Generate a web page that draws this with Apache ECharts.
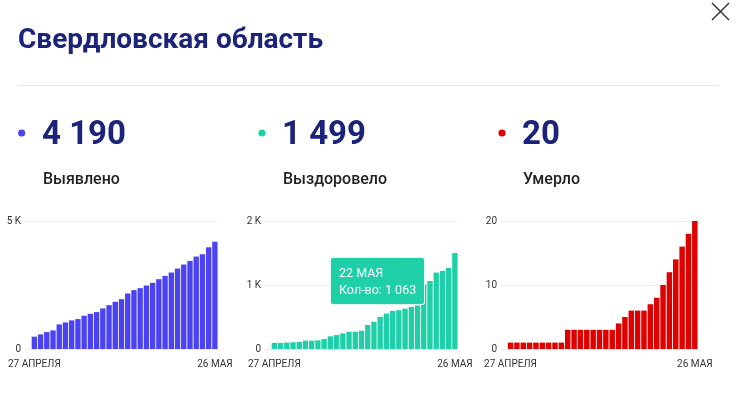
<!DOCTYPE html>
<html>
<head>
<meta charset="utf-8">
<script src="https://cdn.jsdelivr.net/npm/echarts@6/dist/echarts.min.js"></script>
<style>
html,body{margin:0;padding:0;background:#fff;}
#c{width:740px;height:397px;}
</style>
</head>
<body>
<div id="c"></div>
<script>
var dates = ['27 АПРЕЛЯ','28 АПРЕЛЯ','29 АПРЕЛЯ','30 АПРЕЛЯ','1 МАЯ','2 МАЯ','3 МАЯ','4 МАЯ','5 МАЯ','6 МАЯ',
  '7 МАЯ','8 МАЯ','9 МАЯ','10 МАЯ','11 МАЯ','12 МАЯ','13 МАЯ','14 МАЯ','15 МАЯ','16 МАЯ',
  '17 МАЯ','18 МАЯ','19 МАЯ','20 МАЯ','21 МАЯ','22 МАЯ','23 МАЯ','24 МАЯ','25 МАЯ','26 МАЯ'];
var confirmed = [481,571,662,727,961,1039,1117,1169,1299,1377,1442,1585,1714,1844,1948,2169,2299,2377,2481,2584,2727,2857,2987,3143,3299,3442,3611,3701,3974,4190];
var recovered = [95,95,100,105,110,131,131,136,157,198,219,244,270,270,286,374,425,502,553,595,606,630,657,680,1010,1063,1194,1220,1267,1499];
var deaths = [1,1,1,1,1,1,1,1,1,3,3,3,3,3,3,3,3,4,5,6,6,6,7,8,10,12,14,16,18,20];
var titleText = 'Свердловская область';
var statLabels = ['Выявлено','Выздоровело','Умерло'];
var yMax = [5000, 2000, 20];
var yInterval = [5000, 1000, 10];
var tipDate = '22 МАЯ';

var colors = ['#4b42f3', '#1fcfa7', '#df0000'];
var navy = '#1b237b';
var font = 'Roboto, "Noto Sans", sans-serif';

function fmt(n){ return String(n).replace(/\B(?=(\d{3})+(?!\d))/g, ' '); }

var cats = [''].concat(dates);
var seriesData = [confirmed, recovered, deaths];
var grids = [
  {left:25, right:522, top:221, bottom:48},
  {left:265, right:282, top:221, bottom:48},
  {left:501, right:42, top:221, bottom:48}
];
var xAxes = [], yAxes = [], series = [];
for (var i=0;i<3;i++){
  xAxes.push({
    type:'category', gridIndex:i, data:cats,
    axisLine:{show:false}, axisTick:{show:false},
    axisLabel:{
      color:'#333', fontSize:10, fontFamily:font, margin:10,
      interval:function(idx){ return idx===1 || idx===cats.length-1; }
    }
  });
  yAxes.push({
    type:'value', gridIndex:i, min:0, max:yMax[i], interval:yInterval[i],
    axisLine:{show:false}, axisTick:{show:false},
    splitLine:{lineStyle:{color:'#ececec', width:1}},
    axisLabel:{
      color:'#333', fontSize:10, fontFamily:font, margin:4,
      formatter:(function(k){ return function(v){ if(v===0) return '0'; return k<2 ? (v/1000)+' K' : String(v); }; })(i)
    }
  });
  series.push({
    type:'bar', xAxisIndex:i, yAxisIndex:i,
    data:[null].concat(seriesData[i]),
    barCategoryGap:'14%',
    itemStyle:{color:colors[i]},
    emphasis:{disabled:true},
    animation:false
  });
}

var graphics = [
  {type:'text', left:18, top:27, style:{text:titleText, fill:navy, font:'bold 28px '+font}},
  {type:'line', shape:{x1:18,y1:85.5,x2:718,y2:85.5}, style:{stroke:'#e3e3e3', lineWidth:1}},
  {type:'line', shape:{x1:712,y1:3,x2:729,y2:20}, style:{stroke:'#333', lineWidth:1.5}},
  {type:'line', shape:{x1:729,y1:3,x2:712,y2:20}, style:{stroke:'#333', lineWidth:1.5}}
];
var dotX = [21.7, 262, 502];
var numX = [42, 282, 522];
for (var j=0;j<3;j++){
  var arr = seriesData[j];
  graphics.push({type:'circle', shape:{cx:dotX[j], cy:133, r:3.6}, style:{fill:colors[j]}});
  graphics.push({type:'text', left:numX[j], top:119, style:{text:fmt(arr[arr.length-1]), fill:navy, font:'bold 33px '+font}});
  graphics.push({type:'text', left:numX[j]+1, top:172, style:{text:statLabels[j], fill:'#222', font:'500 16px '+font}});
}

var chart = echarts.init(document.getElementById('c'), null, {renderer:'canvas'});
chart.setOption({
  animation:false,
  grid:grids, xAxis:xAxes, yAxis:yAxes, series:series,
  graphic:graphics,
  tooltip:{
    trigger:'item', triggerOn:'none', alwaysShowContent:true, transitionDuration:0,
    position:[330,257],
    backgroundColor:colors[1], borderColor:'rgba(255,255,255,0.85)', borderWidth:1, borderRadius:3,
    padding:[6,8],
    extraCssText:'box-shadow:none;',
    textStyle:{color:'#fff', fontSize:12, fontFamily:font},
    formatter:function(p){
      return '<div style="line-height:17px;font-family:Roboto,sans-serif;font-size:12.5px;color:#fff">' +
        p.name + '<br>Кол-во: ' + fmt(p.value) + '</div>';
    }
  }
});
var tipIndex = cats.indexOf(tipDate);
chart.dispatchAction({type:'showTip', seriesIndex:1, dataIndex:tipIndex});
setTimeout(function(){ chart.dispatchAction({type:'showTip', seriesIndex:1, dataIndex:tipIndex}); }, 50);
</script>
</body>
</html>
